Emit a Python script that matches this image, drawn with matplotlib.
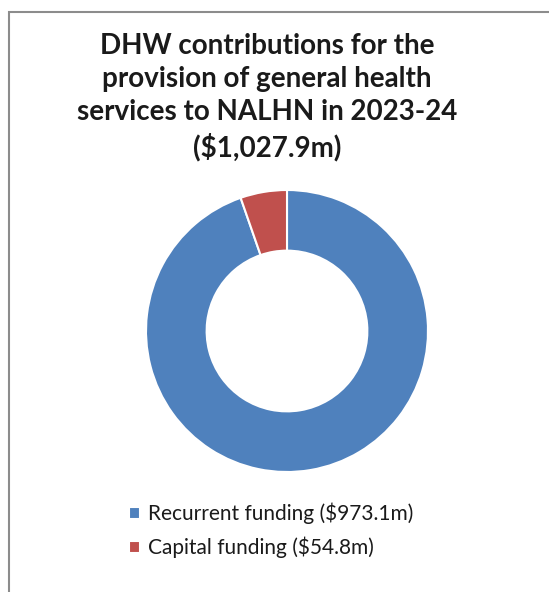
import matplotlib.pyplot as plt
from matplotlib.patches import Rectangle

labels = ['Recurrent funding ($973.1m)', 'Capital funding ($54.8m)']
values = [973.1, 54.8]
colors = ['#4F81BD', '#C0504D']
title = 'DHW contributions for the\nprovision of general health\nservices to NALHN in 2023-24\n($1,027.9m)'

plt.rcParams['font.family'] = ['Lato', 'DejaVu Sans']

fig = plt.figure(figsize=(5.49, 5.92), dpi=100)
# chart border (runs off right and bottom)
fig.patches.append(Rectangle((9 / 549, -0.1), 1.2, 1 - 12 / 592 + 0.1,
                             transform=fig.transFigure, fill=False,
                             edgecolor='#8c8c8c', linewidth=1.5))

fig.text(267 / 549, 1 - 33 / 592, title, ha='center', va='top',
         fontsize=20, fontweight='bold', linespacing=1.33, color='#1a1a1a')

ax = fig.add_axes([(287 - 141) / 549, 1 - (331 + 141) / 592, 282 / 549, 282 / 592])
wedges, _ = ax.pie(values, colors=colors, startangle=90, counterclock=False,
                   wedgeprops=dict(width=0.43, edgecolor='white', linewidth=1.5))
ax.set_aspect('equal')
ax.set_xlim(-1, 1)
ax.set_ylim(-1, 1)

leg = fig.legend(wedges, labels, loc='upper left',
                 bbox_to_anchor=(110 / 549, 1 - 484 / 592), frameon=False,
                 fontsize=15, handlelength=0.55, handleheight=0.55,
                 handletextpad=0.35, labelspacing=0.6)
for t in leg.get_texts():
    t.set_color('#1a1a1a')

fig.savefig('out.png', dpi=100)
